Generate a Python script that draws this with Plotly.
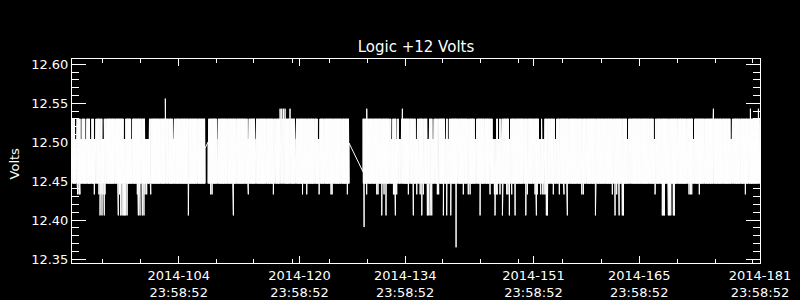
import numpy as np
import pandas as pd
import plotly.graph_objects as go

# ---------------- data ----------------
BASE = pd.Timestamp("2014-04-01 00:00:00")          # day offsets below are days after this
data_first = pd.Timestamp("2014-03-31 20:52:00")
data_last = pd.Timestamp("2014-06-30 23:58:52")
sample_step_days = 0.01                               # telemetry sampling interval

level_high = 12.530      # upper edge of the dense band
level_low = 12.447       # lower edge of the dense band
level_notch = 12.504     # band top where the upper values drop out
notch_halfwidth_days = 0.13

notch_days = [0.36, 1.06, 1.68, 2.34, 2.82, 4.01, 6.79, 7.77, 9.67, 9.80, 9.93,
              13.28, 19.11, 23.18, 24.17, 29.47, 32.49, 42.22, 42.88, 43.25, 43.38,
              45.44, 47.09, 47.69, 49.34, 49.71, 53.32, 55.64, 55.90, 56.34, 56.70,
              57.79, 61.80, 61.93, 62.30, 63.89, 73.43, 77.00, 82.17, 87.20]

up_days = [12.22, 27.42, 27.64, 27.86, 28.08, 28.74, 38.90, 43.62, 84.82, 89.72, 90.78]
up_vals = [12.556, 12.543, 12.543, 12.543, 12.543, 12.543, 12.543, 12.543, 12.543, 12.543, 12.543]

down_days = [0.62, 0.79, 0.92, 2.82, 3.44, 3.57, 3.71, 3.84, 3.97, 4.14, 4.24,
             6.00, 6.16, 6.32, 6.49, 6.66, 6.82, 6.98, 7.15, 8.52, 8.65, 8.87,
             9.18, 9.40, 9.54, 9.76, 10.29, 15.27, 18.24, 18.41, 21.23, 23.22,
             26.53, 30.40, 30.96, 32.59, 34.18, 34.31, 36.33, 38.55, 38.90, 40.23,
             40.40, 40.89, 41.20, 41.46, 42.43, 42.59, 42.69, 42.88, 44.42, 45.08,
             45.53, 45.97, 46.19, 46.40, 46.93, 47.12, 47.29, 47.51, 48.26, 48.44,
             49.05, 49.50, 50.03, 50.73, 51.70, 52.36, 52.59, 53.91, 55.24, 55.81,
             55.90, 56.07, 56.20, 56.56, 56.87, 57.45, 57.62, 57.79, 58.11, 58.55,
             59.97, 60.18, 61.20, 61.37, 61.50, 61.95, 62.22, 62.39, 62.56, 62.70,
             62.83, 63.62, 64.42, 65.04, 65.48, 67.39, 67.60, 69.19, 71.44, 71.80,
             72.02, 72.33, 72.76, 72.92, 77.10, 78.06, 78.20, 78.33, 78.86, 79.02,
             79.18, 79.52, 79.65, 81.60, 81.77, 81.96, 82.96, 89.06]
down_vals = [12.433, 12.433, 12.433, 12.433, 12.433, 12.406, 12.433, 12.406, 12.433, 12.406, 12.433,
             12.406, 12.433, 12.406, 12.406, 12.406, 12.406, 12.406, 12.406, 12.433, 12.406, 12.406,
             12.406, 12.406, 12.433, 12.433, 12.433, 12.406, 12.433, 12.433, 12.406, 12.433,
             12.433, 12.433, 12.433, 12.433, 12.433, 12.433, 12.433, 12.391, 12.433, 12.433,
             12.433, 12.406, 12.433, 12.406, 12.433, 12.433, 12.406, 12.433, 12.433, 12.406,
             12.433, 12.433, 12.406, 12.433, 12.406, 12.406, 12.406, 12.406, 12.433, 12.433,
             12.406, 12.406, 12.406, 12.365, 12.433, 12.433, 12.433, 12.406, 12.433, 12.433,
             12.406, 12.433, 12.433, 12.433, 12.406, 12.433, 12.433, 12.406, 12.433, 12.406,
             12.406, 12.433, 12.433, 12.406, 12.433, 12.433, 12.433, 12.433, 12.433, 12.406,
             12.406, 12.433, 12.433, 12.433, 12.406, 12.433, 12.433, 12.406, 12.433, 12.406,
             12.433, 12.406, 12.406, 12.406, 12.433, 12.406, 12.406, 12.406, 12.406, 12.406,
             12.406, 12.406, 12.406, 12.433, 12.433, 12.433, 12.433, 12.433]

gap_start_days = [17.48, 36.56]
gap_end_days = [17.88, 38.41]
gap_before_vals = [12.492, 12.499]
gap_after_vals = [12.500, 12.462]

title_text = "Logic +12 Volts"
y_title = "Volts"
x_range = ["2014-03-31 20:45:36", "2014-06-30 23:59:00"]
y_range = [12.3449, 12.6068]
major_tick_dates = ["2014-04-14 23:58:52", "2014-04-30 23:58:52", "2014-05-14 23:58:52",
                    "2014-05-31 23:58:52", "2014-06-14 23:58:52", "2014-06-30 23:58:52"]
major_tick_text = ["2014-104<br>23:58:52", "2014-120<br>23:58:52", "2014-134<br>23:58:52",
                   "2014-151<br>23:58:52", "2014-165<br>23:58:52", "2014-181<br>23:58:52"]
minor_tick_dates = ["2014-04-04 21:07", "2014-04-09 21:50", "2014-04-15 00:00", "2014-04-19 23:31",
                    "2014-04-24 22:34", "2014-04-30 00:14", "2014-05-04 22:48", "2014-05-09 23:31",
                    "2014-05-15 00:29", "2014-05-19 22:05", "2014-05-24 22:48", "2014-05-30 00:58",
                    "2014-06-04 19:41", "2014-06-10 00:00", "2014-06-15 00:43", "2014-06-20 01:12",
                    "2014-06-25 01:55", "2014-06-30 00:58"]

# ---------------- assemble the telemetry series ----------------
day = pd.Timedelta(days=1)
t0 = (data_first - BASE) / day
t1 = (data_last - BASE) / day
n = int((t1 - t0) / sample_step_days) + 1
days = t0 + sample_step_days * np.arange(n)
days[-1] = t1
is_high = (np.arange(n) % 2 == 0)
vals = np.where(is_high, level_high, level_low).astype(float)

for nd in notch_days:
    m = is_high & (np.abs(days - nd) <= notch_halfwidth_days)
    vals[m] = level_notch

hi_idx = np.where(is_high)[0]
lo_idx = np.where(~is_high)[0]
for d, v in zip(up_days, up_vals):
    i = hi_idx[np.argmin(np.abs(days[hi_idx] - d))]
    vals[i] = v
for d, v in zip(down_days, down_vals):
    i = lo_idx[np.argmin(np.abs(days[lo_idx] - d))]
    vals[i] = v

keep = np.ones(n, dtype=bool)
for gs, ge in zip(gap_start_days, gap_end_days):
    keep &= ~((days >= gs) & (days <= ge))
days = list(days[keep])
vals = list(vals[keep])
days += gap_start_days + gap_end_days
vals += gap_before_vals + gap_after_vals
order = np.argsort(days)
days = np.array(days)[order]
vals = np.array(vals)[order]
times = BASE + pd.to_timedelta(days, unit="D")

# ---------------- figure ----------------
fig = go.Figure()
fig.add_trace(go.Scatter(x=times, y=vals, mode="lines",
                         line=dict(color="white", width=1), hoverinfo="skip"))

fig.update_layout(
    width=800, height=300,
    margin=dict(l=72, r=40, t=59, b=37),
    paper_bgcolor="black", plot_bgcolor="black",
    font=dict(family="DejaVu Sans", size=13, color="white"),
    showlegend=False,
    title=dict(text=title_text, x=416 / 800, xanchor="center", xref="container",
               y=1 - 47 / 300, yref="container", yanchor="middle",
               font=dict(size=15, color="white", family="DejaVu Sans")),
    annotations=[dict(text=y_title, xref="paper", yref="paper", x=(14 - 72) / 688, y=0.488,
                      xanchor="center", yanchor="middle", textangle=-90, showarrow=False,
                      font=dict(size=13, color="white", family="DejaVu Sans"))],
)
fig.update_xaxes(
    type="date", range=x_range, showgrid=False, zeroline=False, automargin=False,
    showline=True, linecolor="white", linewidth=1, mirror="ticks",
    ticks="inside", ticklen=7, tickwidth=1, tickcolor="white",
    tickmode="array", tickvals=major_tick_dates, ticktext=major_tick_text,
    tickfont=dict(size=13, color="white"),
    minor=dict(tickmode="array", tickvals=minor_tick_dates, ticks="inside", ticklen=4,
               tickwidth=1, tickcolor="white", showgrid=False),
)
fig.update_yaxes(
    range=y_range, showgrid=False, zeroline=False, automargin=False,
    showline=True, linecolor="white", linewidth=1, mirror="ticks",
    ticks="inside", ticklen=14, tickwidth=1, tickcolor="white",
    tick0=12.35, dtick=0.05, tickformat=".2f",
    tickfont=dict(size=13, color="white"),
    minor=dict(tick0=12.35, dtick=0.01, ticks="inside", ticklen=7,
               tickwidth=1, tickcolor="white", showgrid=False),
)

fig.write_html("out.html")
